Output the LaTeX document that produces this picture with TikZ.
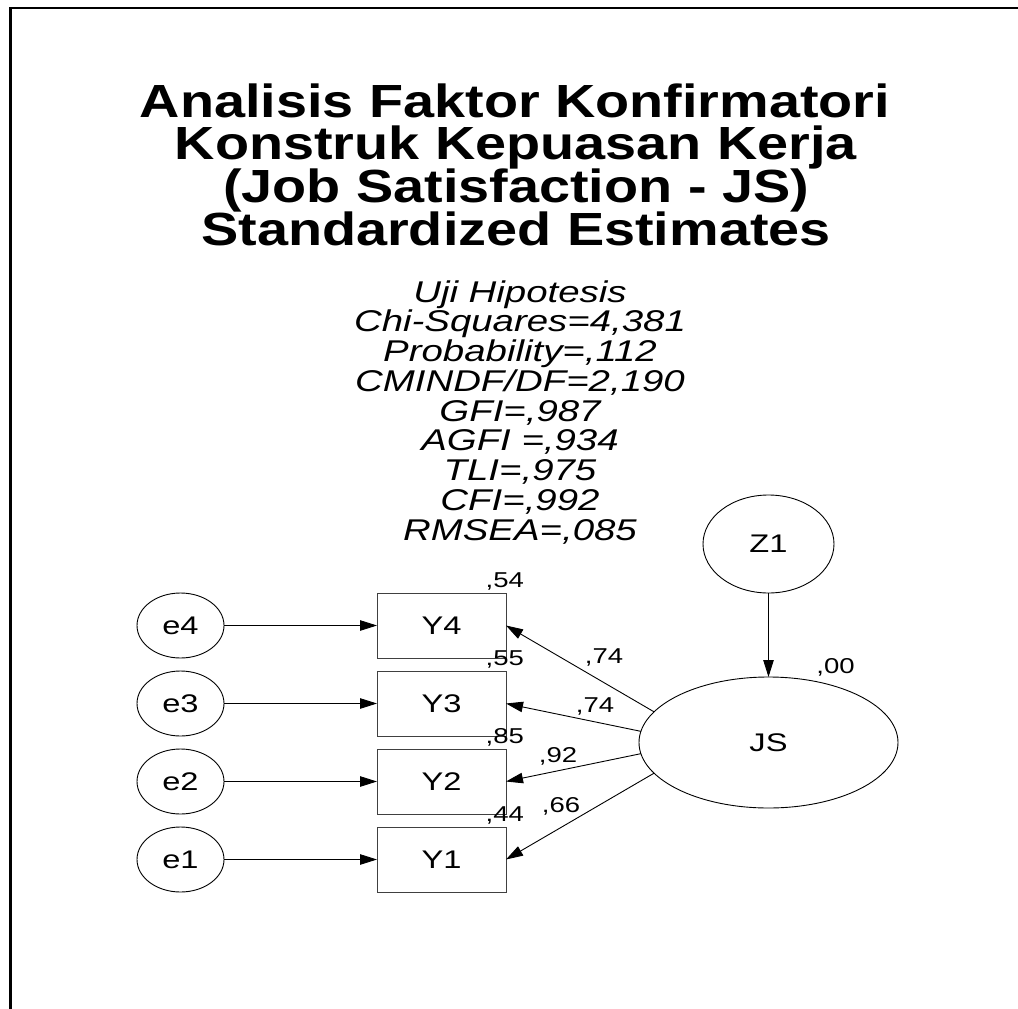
\documentclass[tikz,border=0pt]{standalone}
\usepackage{fontspec}
\setmainfont{Liberation Sans}
\newfontfamily\wsans[FakeStretch=1.28]{Liberation Sans}
\newfontfamily\wtitle[FakeStretch=1.2]{Liberation Sans}
\usetikzlibrary{arrows.meta,shapes.geometric}
\begin{document}
\begin{tikzpicture}[x=1pt,y=-1pt,
  every node/.style={inner sep=0pt,outer sep=0pt},
  titleline/.style={font=\wtitle\bfseries\fontsize{46.5}{46.5}\selectfont, anchor=base},
  statline/.style={font=\wsans\itshape\fontsize{30}{30}\selectfont, anchor=base},
  latent/.style={draw, ellipse, line width=0.9pt, font=\wsans\fontsize{25.5}{25.5}\selectfont},
  obs/.style={draw=black!75, rectangle, minimum width=129pt, minimum height=65pt, line width=1pt, font=\wsans\fontsize{25.5}{25.5}\selectfont},
  smalllab/.style={font=\wsans\fontsize{21.5}{21.5}\selectfont},
  sempath/.style={-{Triangle[length=17pt,width=10.5pt]}, line width=0.9pt}
]
\useasboundingbox (0,0) rectangle (1018,1009);
\draw[line width=2.5pt] (10.3,1009) -- (10.3,7.8) -- (1018,7.8);

% title
\node[titleline] (t1) at (515,117) {Analisis Faktor Konfirmatori};
\node[titleline] (t2) at (516,159) {Konstruk Kepuasan Kerja};
\node[titleline] (t3) at (516,202) {(Job Satisfaction - JS)};
\node[titleline] (t4) at (516,245) {Standardized Estimates};

% statistics
\node[statline] (s1) at (520,302) {Uji Hipotesis};
\node[statline] (s2) at (520,331.75) {Chi-Squares=4,381};
\node[statline] (s3) at (520,361.5) {Probability=,112};
\node[statline] (s4) at (520,391.25) {CMINDF/DF=2,190};
\node[statline] (s5) at (520,421) {GFI=,987};
\node[statline] (s6) at (520,450.75) {AGFI =,934};
\node[statline] (s7) at (520,480.5) {TLI=,975};
\node[statline] (s8) at (520,510.25) {CFI=,992};
\node[statline] (s9) at (520,540) {RMSEA=,085};

% latent variables
\node[latent, minimum width=131pt, minimum height=98pt] (Z1) at (768.5,544) {Z1};
\node[latent, minimum width=259pt, minimum height=131pt] (JS) at (768.5,742.5) {JS};

% observed variables
\node[obs] (Y4) at (441.5,625.5) {Y4};
\node[obs] (Y3) at (441.5,703.5) {Y3};
\node[obs] (Y2) at (441.5,781.5) {Y2};
\node[obs] (Y1) at (441.5,859.5) {Y1};

% errors
\node[latent, minimum width=87pt, minimum height=65pt] (e4) at (180.5,625.5) {e4};
\node[latent, minimum width=87pt, minimum height=65pt] (e3) at (180.5,703.5) {e3};
\node[latent, minimum width=87pt, minimum height=65pt] (e2) at (180.5,781.5) {e2};
\node[latent, minimum width=87pt, minimum height=65pt] (e1) at (180.5,859.5) {e1};

% paths
\draw[sempath] (e4) -- (Y4);
\draw[sempath] (e3) -- (Y3);
\draw[sempath] (e2) -- (Y2);
\draw[sempath] (e1) -- (Y1);
\draw[sempath] (Z1) -- (JS);
\draw[sempath] (JS.165) -- (Y4.east);
\draw[sempath] (JS.175) -- (Y3.east);
\draw[sempath] (JS.185) -- (Y2.east);
\draw[sempath] (JS.195) -- (Y1.east);

% squared multiple correlations
\node[smalllab, anchor=base east] (r4) at (524,587) {,54};
\node[smalllab, anchor=base east] (r3) at (524,665) {,55};
\node[smalllab, anchor=base east] (r2) at (524,743) {,85};
\node[smalllab, anchor=base east] (r1) at (524,821) {,44};
\node[smalllab, anchor=base] (rJS) at (835.5,673) {,00};

% loadings
\node[smalllab, anchor=base] (l4) at (604,663) {,74};
\node[smalllab, anchor=base] (l3) at (595,712) {,74};
\node[smalllab, anchor=base] (l2) at (558,762) {,92};
\node[smalllab, anchor=base] (l1) at (561,812) {,66};
\end{tikzpicture}
\end{document}
